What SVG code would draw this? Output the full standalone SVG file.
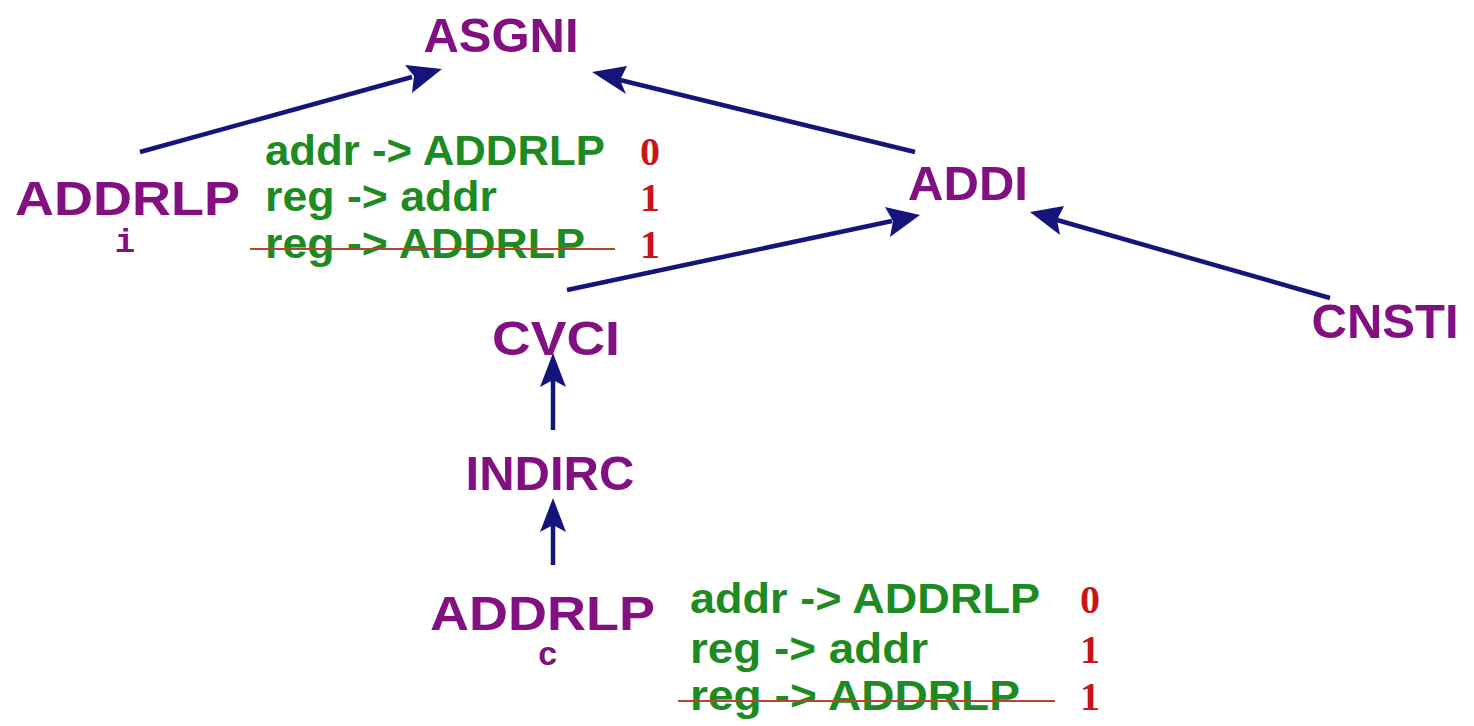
<svg xmlns="http://www.w3.org/2000/svg" width="1474" height="726" viewBox="0 0 1474 726">
  <defs>
    <style>
      .op { font-family: "Liberation Sans", Arial, sans-serif; font-weight: bold; font-size: 49px; fill: #821080; }
      .sub { font-family: "Liberation Mono", "Courier New", monospace; font-weight: bold; font-size: 34px; fill: #821080; }
      .rule { font-family: "Liberation Sans", Arial, sans-serif; font-weight: bold; font-size: 42px; fill: #1e8a22; }
      .cost { font-family: "Liberation Serif", "Times New Roman", serif; font-weight: bold; font-size: 40px; fill: #c8141a; }
      .strike { stroke: #b04a2a; stroke-width: 2; }
      .edge { stroke: #14147a; stroke-width: 4.5; fill: none; }
      .tip { fill: #14147a; }
    </style>
  </defs>
  <rect width="1474" height="726" fill="#ffffff"/>

  <!-- tree edges, child to parent -->
  <g id="edges">
    <line class="edge" x1="140" y1="152" x2="412" y2="77"/>
    <path class="tip" d="M442,69 L405,65 L414,76 L412,93 Z"/>
    <line class="edge" x1="915" y1="152" x2="620" y2="80"/>
    <path class="tip" d="M592,72 L627,66 L620,80 L626,94 Z"/>
    <line class="edge" x1="567" y1="290" x2="892" y2="221"/>
    <path class="tip" d="M920,215 L885,207 L893,221 L890,237 Z"/>
    <line class="edge" x1="1330" y1="298" x2="1057" y2="220"/>
    <path class="tip" d="M1030,212 L1064,206 L1057,220 L1060,235 Z"/>
    <line class="edge" x1="553" y1="430" x2="553" y2="380"/>
    <path class="tip" d="M553,353 L566,387 L553,380 L540,387 Z"/>
    <line class="edge" x1="553" y1="565" x2="553" y2="525"/>
    <path class="tip" d="M553,498 L566,532 L553,525 L540,532 Z"/>
  </g>

  <g id="asgni"><text class="op" x="501" y="52" text-anchor="middle">ASGNI</text></g>

  <g id="addrlp-i">
    <text class="op" x="15" y="215" textLength="225" lengthAdjust="spacingAndGlyphs">ADDRLP</text>
    <text class="sub" x="125" y="252" text-anchor="middle">i</text>
    <text class="rule" x="265" y="165" textLength="340" lengthAdjust="spacingAndGlyphs">addr -&gt; ADDRLP</text>
    <text class="rule" x="265" y="211" textLength="232" lengthAdjust="spacingAndGlyphs">reg -&gt; addr</text>
    <text class="rule" x="265" y="258" textLength="320" lengthAdjust="spacingAndGlyphs">reg -&gt; ADDRLP</text>
    <line class="strike" x1="250" y1="249" x2="615" y2="249"/>
    <text class="cost" x="640" y="165">0</text>
    <text class="cost" x="640" y="211">1</text>
    <text class="cost" x="640" y="258">1</text>
  </g>

  <g id="addi"><text class="op" x="968" y="200" text-anchor="middle">ADDI</text></g>
  <g id="cnsti"><text class="op" x="1385" y="338" text-anchor="middle">CNSTI</text></g>
  <g id="cvci"><text class="op" x="492" y="355" textLength="128" lengthAdjust="spacingAndGlyphs">CVCI</text></g>
  <g id="indirc"><text class="op" x="550" y="490" text-anchor="middle">INDIRC</text></g>

  <g id="addrlp-c">
    <text class="op" x="430" y="630" textLength="225" lengthAdjust="spacingAndGlyphs">ADDRLP</text>
    <text class="sub" x="548" y="665" text-anchor="middle">c</text>
    <text class="rule" x="690" y="613" textLength="350" lengthAdjust="spacingAndGlyphs">addr -&gt; ADDRLP</text>
    <text class="rule" x="690" y="663" textLength="238" lengthAdjust="spacingAndGlyphs">reg -&gt; addr</text>
    <text class="rule" x="690" y="710" textLength="330" lengthAdjust="spacingAndGlyphs">reg -&gt; ADDRLP</text>
    <line class="strike" x1="678" y1="701" x2="1055" y2="701"/>
    <text class="cost" x="1080" y="613">0</text>
    <text class="cost" x="1080" y="663">1</text>
    <text class="cost" x="1080" y="710">1</text>
  </g>
</svg>
